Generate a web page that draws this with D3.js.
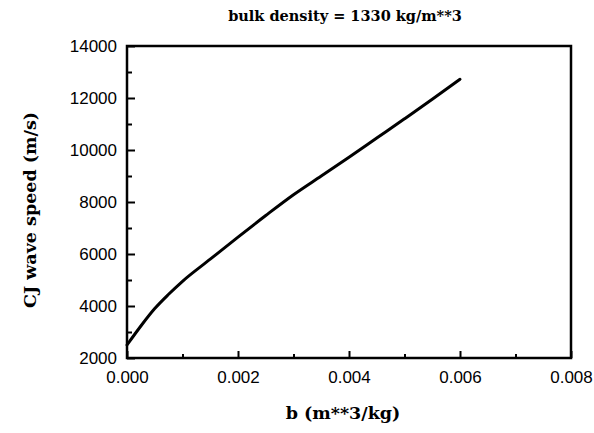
<!DOCTYPE html>
<html lang="en">
<head>
    <meta charset="utf-8">
    <title>CJ wave speed</title>
    <style type="text/css">
        body { margin: 0; background: white; }
    </style>
    <script type="text/javascript" src="https://cdnjs.cloudflare.com/ajax/libs/d3/7.8.5/d3.min.js"></script>
</head>
<body>
    <script type="text/javascript">
        let w = 594;
        let h = 433;

        // data
        let bValues = [0, 0.00025, 0.0005, 0.00075, 0.001, 0.0015, 0.002, 0.0025, 0.003, 0.0035, 0.004, 0.0045, 0.005, 0.0055, 0.006];
        let speedValues = [2500, 3230, 3900, 4450, 4950, 5800, 6650, 7480, 8280, 9000, 9720, 10460, 11200, 11950, 12720];
        let xTicks = [0, 0.002, 0.004, 0.006, 0.008];
        let xMinorTicks = [0.001, 0.003, 0.005, 0.007];
        let yTicks = [2000, 4000, 6000, 8000, 10000, 12000, 14000];
        let yMinorTicks = [3000, 5000, 7000, 9000, 11000, 13000];

        let margin = {left: 127, right: 23, top: 46, bottom: 75};
        let tickFont = "'Liberation Sans', Arial, sans-serif";
        let labelFont = "'DejaVu Serif', serif";

        let svg = d3.select("body").append("svg")
            .attr("width", w)
            .attr("height", h)
            .style("background-color", "white");

        let x = d3.scaleLinear().domain([0, 0.008]).range([margin.left, w - margin.right]);
        let y = d3.scaleLinear().domain([2000, 14000]).range([h - margin.bottom, margin.top]);

        // minor ticks first
        svg.append("g")
            .attr("transform", "translate(0," + (h - margin.bottom) + ")")
            .call(d3.axisBottom(x).tickValues(xMinorTicks).tickSize(-4).tickFormat(""))
            .call(g => g.select(".domain").remove())
            .selectAll("line").attr("stroke-width", 2);

        svg.append("g")
            .attr("transform", "translate(" + margin.left + ",0)")
            .call(d3.axisLeft(y).tickValues(yMinorTicks).tickSize(-5).tickFormat(""))
            .call(g => g.select(".domain").remove())
            .selectAll("line").attr("stroke-width", 2);

        // major ticks with labels (font set after the axis call, it sets its own)
        let xAxis = svg.append("g")
            .attr("transform", "translate(0," + (h - margin.bottom) + ")")
            .call(d3.axisBottom(x).tickValues(xTicks).tickSize(-7).tickPadding(13).tickFormat(d3.format(".3f")))
            .attr("font-family", tickFont)
            .attr("font-size", 17);
        xAxis.select(".domain").remove();
        xAxis.selectAll("line").attr("stroke-width", 2);

        let yAxis = svg.append("g")
            .attr("transform", "translate(" + margin.left + ",0)")
            .call(d3.axisLeft(y).tickValues(yTicks).tickSize(-8).tickPadding(10).tickFormat(d3.format("d")))
            .attr("font-family", tickFont)
            .attr("font-size", 17);
        yAxis.select(".domain").remove();
        yAxis.selectAll("line").attr("stroke-width", 2);

        // frame
        svg.append("rect")
            .attr("x", margin.left)
            .attr("y", margin.top)
            .attr("width", w - margin.left - margin.right)
            .attr("height", h - margin.top - margin.bottom)
            .attr("fill", "none")
            .attr("stroke", "black")
            .attr("stroke-width", 2.5);

        // curve
        let line = d3.line()
            .x((d, i) => x(bValues[i]))
            .y(d => y(d))
            .curve(d3.curveMonotoneX);

        svg.append("path")
            .datum(speedValues)
            .attr("d", line)
            .attr("fill", "none")
            .attr("stroke", "black")
            .attr("stroke-width", 3)
            .attr("stroke-linecap", "round");

        // title
        svg.append("text")
            .attr("x", 345)
            .attr("y", 21)
            .attr("text-anchor", "middle")
            .attr("font-family", labelFont)
            .attr("font-size", 14.5)
            .attr("font-weight", "bold")
            .text("bulk density = 1330 kg/m**3");

        // axis labels
        svg.append("text")
            .attr("x", 343)
            .attr("y", 419)
            .attr("text-anchor", "middle")
            .attr("font-family", labelFont)
            .attr("font-size", 17.5)
            .attr("font-weight", "bold")
            .text("b (m**3/kg)");

        svg.append("text")
            .attr("transform", "translate(36,210) rotate(-90)")
            .attr("text-anchor", "middle")
            .attr("font-family", labelFont)
            .attr("font-size", 17.5)
            .attr("font-weight", "bold")
            .text("CJ wave speed (m/s)");
    </script>
</body>
</html>
